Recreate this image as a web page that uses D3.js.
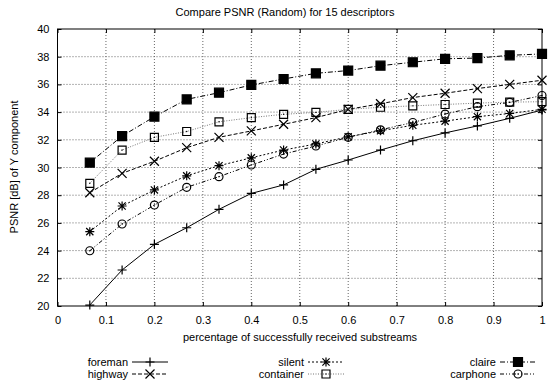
<!DOCTYPE html>
<html><head><meta charset="utf-8">
<script src="https://cdn.jsdelivr.net/npm/d3@7"></script>
<style>body{margin:0;background:#fff}svg{display:block}text{font-family:"Liberation Sans",Arial,Helvetica,sans-serif;font-size:11px;fill:#000}</style>
</head><body><svg id="c" width="549" height="385"></svg>
<script>
const xValues = [1,2,3,4,5,6,7,8,9,10,11,12,13,14,15].map(k => k / 15);
const foreman   = [20.07,22.6,24.45,25.65,26.98,28.13,28.74,29.87,30.54,31.26,31.93,32.5,33.0,33.55,34.15];
const highway   = [28.18,29.58,30.45,31.43,32.18,32.64,33.12,33.6,34.2,34.6,35.05,35.36,35.7,36.0,36.3];
const silent    = [25.37,27.22,28.38,29.4,30.13,30.7,31.26,31.7,32.22,32.65,33.05,33.35,33.67,33.9,34.2];
const container = [28.86,31.26,32.18,32.6,33.3,33.6,33.84,33.98,34.2,34.35,34.45,34.55,34.65,34.72,34.75];
const claire    = [30.35,32.27,33.67,34.92,35.4,35.96,36.39,36.8,37.0,37.35,37.6,37.85,37.9,38.1,38.2];
const carphone  = [23.99,25.92,27.29,28.57,29.34,30.18,30.97,31.55,32.18,32.72,33.25,33.86,34.39,34.7,35.2];
const seriesNames = ["foreman","highway","silent","container","claire","carphone"];
const xTicks = [0,0.1,0.2,0.3,0.4,0.5,0.6,0.7,0.8,0.9,1];
const yTicks = [20,22,24,26,28,30,32,34,36,38,40];
const titleText = "Compare PSNR (Random) for 15 descriptors";
const xLabel = "percentage of successfully received substreams";
const yLabel = "PSNR [dB] of Y component";

const seriesData = {foreman, highway, silent, container, claire, carphone};
const styles = {
  foreman:   {dash:null,          color:"#000", marker:"plus"},
  highway:   {dash:"4,2",         color:"#000", marker:"cross"},
  silent:    {dash:"2,2",         color:"#000", marker:"star"},
  container: {dash:"1,1.5",       color:"#777", marker:"square"},
  claire:    {dash:"5,2,1,2",     color:"#000", marker:"fsquare"},
  carphone:  {dash:"4,2,1,2,1,2", color:"#000", marker:"circle"}
};

const svg = d3.select("#c");
const L = 57.5, R = 542, T = 29, B = 306;
const x = d3.scaleLinear().domain([0,1]).range([L,R]);
const y = d3.scaleLinear().domain([20,40]).range([B,T]);

// grid
const g = svg.append("g");
g.selectAll(".gx").data(xTicks.slice(1,-1)).join("line")
  .attr("x1",d=>x(d)).attr("x2",d=>x(d)).attr("y1",T).attr("y2",B)
  .attr("stroke","#666").attr("stroke-width",1).attr("stroke-dasharray","1,2");
g.selectAll(".gy").data(yTicks.slice(1,-1)).join("line")
  .attr("y1",d=>y(d)).attr("y2",d=>y(d)).attr("x1",L).attr("x2",R)
  .attr("stroke","#666").attr("stroke-width",1).attr("stroke-dasharray","1,2");

// axes with inward ticks
const ax = svg.append("g").attr("transform",`translate(0,${B})`)
  .call(d3.axisBottom(x).tickValues(xTicks).tickFormat(d3.format("~g")).tickSize(-4).tickPadding(10));
const ay = svg.append("g").attr("transform",`translate(${L},0)`)
  .call(d3.axisLeft(y).tickValues(yTicks).tickSize(-4).tickPadding(8));
const at = svg.append("g").attr("transform",`translate(0,${T})`)
  .call(d3.axisTop(x).tickValues(xTicks).tickSize(-4).tickFormat(""));
const ar = svg.append("g").attr("transform",`translate(${R},0)`)
  .call(d3.axisRight(y).tickValues(yTicks).tickSize(-4).tickFormat(""));
[ax,ay,at,ar].forEach(a=>{a.select(".domain").remove();a.selectAll("text").attr("font-size",null).attr("font-family",null).style("font-size","11px").attr("fill","#000");a.selectAll("line").attr("stroke","#000");});
svg.append("rect").attr("x",L).attr("y",T).attr("width",R-L).attr("height",B-T)
  .attr("fill","none").attr("stroke","#000").attr("stroke-width",1);

function markerPath(type){
  const s=4.5;
  switch(type){
    case "plus": return `M${-s},0H${s}M0,${-s}V${s}`;
    case "cross": return `M${-s},${-s}L${s},${s}M${-s},${s}L${s},${-s}`;
    case "star": return `M${-s},0H${s}M0,${-s}V${s}M${-s*0.8},${-s*0.8}L${s*0.8},${s*0.8}M${-s*0.8},${s*0.8}L${s*0.8},${-s*0.8}`;
    case "square": return `M${-4},${-4}H4V4H-4Z`;
    case "fsquare": return `M${-4.5},${-4.5}H4.5V4.5H-4.5Z`;
    case "circle": return d3.symbol(d3.symbolCircle, 50)();
  }
}
function drawMarker(sel, type){
  sel.append("path").attr("d",markerPath(type))
    .attr("fill", type==="fsquare" ? "#000" : "none")
    .attr("stroke","#000").attr("stroke-width",1.2);
  if(type==="square"||type==="circle"){
    sel.append("circle").attr("r",0.7).attr("fill","#000");
  }
}

const line = d3.line().x((d,i)=>x(xValues[i])).y(d=>y(d));
seriesNames.forEach(name=>{
  const st = styles[name];
  const data = seriesData[name];
  svg.append("path").datum(data).attr("d",line).attr("fill","none")
    .attr("stroke",st.color).attr("stroke-width",1)
    .attr("stroke-dasharray",st.dash);
  svg.append("g").selectAll("g").data(data).join("g")
    .attr("transform",(d,i)=>`translate(${x(xValues[i])},${y(d)})`)
    .each(function(){drawMarker(d3.select(this), st.marker);});
});

// title and labels
svg.append("text").attr("x",285).attr("y",16).attr("text-anchor","middle").text(titleText);
svg.append("text").attr("x",300).attr("y",341).attr("text-anchor","middle").text(xLabel);
svg.append("text").attr("transform","translate(18,167) rotate(-90)").attr("text-anchor","middle").text(yLabel);

// legend
const legendPos = [[150,362],[150,374],[326,362],[326,374],[518,362],[518,374]];
seriesNames.forEach((name,i)=>{
  const [cx,cy] = legendPos[i];
  const st = styles[name];
  const lg = svg.append("g");
  lg.append("text").attr("x",cx-22).attr("y",cy+4).attr("text-anchor","end").text(name);
  lg.append("line").attr("x1",cx-18).attr("x2",cx+18).attr("y1",cy).attr("y2",cy)
    .attr("stroke",st.color).attr("stroke-width",1).attr("stroke-dasharray",st.dash);
  const mg = lg.append("g").attr("transform",`translate(${cx},${cy})`);
  drawMarker(mg, st.marker);
});
</script></body></html>
